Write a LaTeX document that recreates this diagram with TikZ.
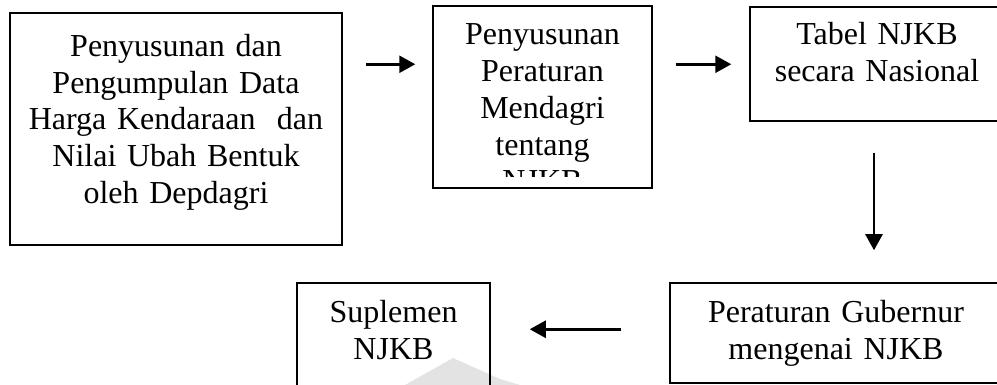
\documentclass[tikz,border=0pt]{standalone}
\usepackage{fontspec}
\setmainfont{Liberation Serif}
\usetikzlibrary{arrows.meta}

\begin{document}
\begin{tikzpicture}[x=1pt,y=-1pt]
                \tikzstyle{flowbox}=[draw,rectangle,line width=1.5pt,inner sep=0pt]
                \tikzstyle{flowtext}=[align=center,inner sep=0pt,anchor=base,
                    font=\fontsize{32}{36.8}\selectfont]
                \tikzstyle{flowarrow}=[line width=2.6pt,
                    -{Triangle[length=16pt,width=17pt]}]

                \clip (0,0) rectangle (997,385);

                %% Faint mark under the last box
                \fill[gray!22] (405,385) -- (453,358) -- (500,379) -- (520,385) -- cycle;

                %% Upper row
                \node [flowbox,minimum width=332pt,minimum height=232pt] (dataBox) at (176,129) {};
                \node [flowtext,text width=320pt] (dataText) at ([yshift=-44pt]dataBox.north)
                    {Penyusunan dan\\Pengumpulan Data\\Harga Kendaraan~ dan\\Nilai Ubah Bentuk\\oleh Depdagri};

                \node [flowbox,minimum width=219pt,minimum height=182pt] (permenBox) at (542.5,97) {};
                \begin{scope}
                    \clip (435,8) rectangle (650,177);
                    \node [flowtext,text width=210pt] (permenText) at ([yshift=-39.5pt]permenBox.north)
                        {Penyusunan\\Peraturan\\Mendagri\\tentang\\NJKB};
                \end{scope}

                \node [flowbox,minimum width=254pt,minimum height=114pt] (tabelBox) at (877,64) {};
                \node [flowtext,text width=240pt] (tabelText) at ([yshift=-38pt]tabelBox.north)
                    {Tabel NJKB\\secara Nasional};

                %% Lower row
                \node [flowbox,minimum width=332pt,minimum height=100pt] (pergubBox) at (836,333) {};
                \node [flowtext,text width=320pt] (pergubText) at ([yshift=-40pt]pergubBox.north)
                    {Peraturan Gubernur\\mengenai NJKB};

                \node [flowbox,minimum width=193pt,minimum height=147pt] (suplemenBox) at (393.5,356.5) {};
                \node [flowtext,text width=180pt] (suplemenText) at ([yshift=-40pt]suplemenBox.north)
                    {Suplemen\\NJKB};

                %% Arrows between the boxes
                \coordinate (arrA) at ([yshift=-52pt]dataBox.north east);
                \draw [flowarrow,shorten <=23pt,shorten >=17pt] (arrA) -- (arrA -| permenBox.west);

                \coordinate (arrB) at ([yshift=-59pt]permenBox.north east);
                \draw [flowarrow,shorten <=23pt,shorten >=18pt] (arrB) -- (arrB -| tabelBox.west);

                \coordinate (arrC) at ([xshift=-3pt]tabelBox.south);
                \draw [flowarrow,shorten <=31pt,shorten >=32pt] (arrC) -- (arrC |- pergubBox.north);

                \coordinate (arrD) at ([yshift=-47pt]pergubBox.north west);
                \draw [flowarrow,shorten <=48pt,shorten >=39pt] (arrD) -- (arrD -| suplemenBox.east);
\end{tikzpicture}
\end{document}
